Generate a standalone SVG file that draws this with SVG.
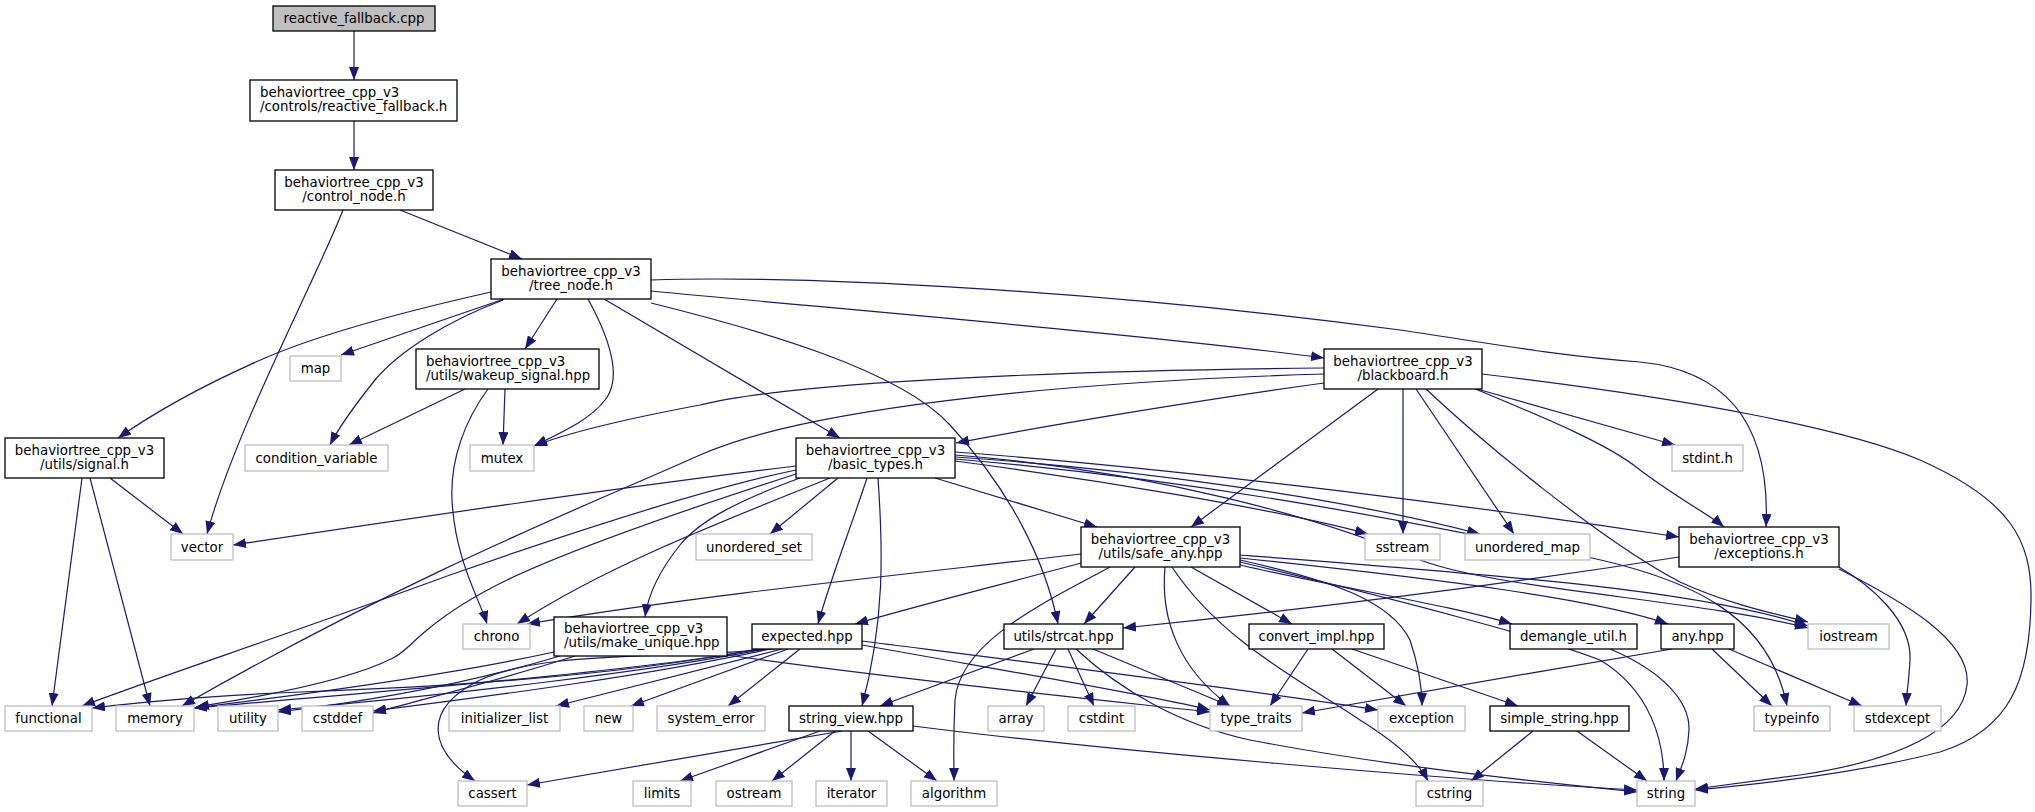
<svg xmlns="http://www.w3.org/2000/svg" width="2035" height="812" viewBox="0 0 2035 812">
<style>
.e{fill:none;stroke:#191970;stroke-width:1.2;marker-end:url(#a)}
.n rect{fill:#fff;stroke:#000;stroke-width:1.3}
.g rect{fill:#fff;stroke:#bfbfbf;stroke-width:1.3}
.r rect{fill:#bfbfbf;stroke:#000;stroke-width:1.3}
text{font-family:"DejaVu Sans",sans-serif;font-size:13.33px;fill:#000}
.c{text-anchor:middle}
</style>
<defs>
<marker id="a" markerUnits="userSpaceOnUse" markerWidth="14" markerHeight="10" refX="13" refY="5" orient="auto"><path d="M0,0 L13,5 L0,10 z" fill="#191970"/></marker>
</defs>
<rect width="2035" height="812" fill="#fff"/>
<g id="edges">
<path class="e" d="M354,31 V80"/>
<path class="e" d="M354,121 V170"/>
<path class="e" d="M400,210 L522,259"/>
<path class="e" d="M343,210 C318,275 235,430 207,534"/>
<path class="e" d="M491,292 C420,308 330,330 265,358 C210,382 158,410 118,438"/>
<path class="e" d="M504,299 L341,355"/>
<path class="e" d="M503,300 C450,320 400,350 375,380 C355,405 340,425 330,445"/>
<path class="e" d="M557,299 L525,349"/>
<path class="e" d="M588,299 C605,330 625,375 605,400 C590,420 560,433 534,446"/>
<path class="e" d="M604,299 L840,438"/>
<path class="e" d="M651,303 C760,330 900,370 950,425 C1010,490 1045,560 1058,624"/>
<path class="e" d="M651,291 C850,310 1150,335 1324,358"/>
<path class="e" d="M651,280 C800,275 1100,290 1400,330 C1500,345 1560,356 1640,362 C1740,372 1770,440 1766,527"/>
<path class="e" d="M1324,368 C1100,370 800,380 700,405 C620,420 570,432 534,446"/>
<path class="e" d="M1324,374 C1050,382 800,410 700,455 C600,500 420,570 182,706"/>
<path class="e" d="M1324,383 C1200,400 1050,425 956,443"/>
<path class="e" d="M1378,389 L1191,527"/>
<path class="e" d="M1403,389 V534"/>
<path class="e" d="M1416,389 L1514,534"/>
<path class="e" d="M1426,389 C1480,440 1600,540 1680,582 C1730,605 1780,615 1808,622"/>
<path class="e" d="M1473,388 C1550,420 1610,445 1640,470 C1680,500 1710,515 1724,527"/>
<path class="e" d="M1477,389 L1675,445"/>
<path class="e" d="M1482,374 C1700,400 1850,430 1920,460 C2010,500 2032,540 2031,600 C2030,680 2010,730 1940,752 C1850,775 1750,785 1695,790"/>
<path class="e" d="M1679,557 C1500,585 1300,610 1123,628"/>
<path class="e" d="M1839,567 C1870,585 1912,620 1910,660 C1909,680 1907,690 1906,706"/>
<path class="e" d="M1839,569 C1900,600 1972,640 1967,685 C1962,730 1900,760 1800,775 C1750,782 1720,786 1695,789"/>
<path class="e" d="M110,478 L183,534"/>
<path class="e" d="M82,478 L52,706"/>
<path class="e" d="M90,478 L150,706"/>
<path class="e" d="M488,389 C465,420 450,460 452,500 C455,560 480,600 487,624"/>
<path class="e" d="M505,389 L503,445"/>
<path class="e" d="M465,389 L349,445"/>
<path class="e" d="M796,466 C600,490 400,520 233,545"/>
<path class="e" d="M796,470 C700,490 550,540 450,575 C300,630 150,680 82,706"/>
<path class="e" d="M796,474 C700,505 580,545 507,580 C470,598 445,615 427,630 C412,642 405,652 393,658 C350,680 260,697 196,707"/>
<path class="e" d="M830,478 C700,530 600,570 517,624"/>
<path class="e" d="M838,478 L770,534"/>
<path class="e" d="M800,478 C740,500 700,520 680,545 C660,570 648,595 645,617"/>
<path class="e" d="M867,478 C850,530 830,580 818,624"/>
<path class="e" d="M878,478 C883,550 885,620 862,706"/>
<path class="e" d="M935,478 L1097,527"/>
<path class="e" d="M955,461 C1100,480 1280,510 1368,534"/>
<path class="e" d="M955,457 C1150,470 1350,500 1480,534"/>
<path class="e" d="M955,452 C1200,470 1500,510 1679,537"/>
<path class="e" d="M955,455 C1150,470 1330,520 1420,560 C1500,590 1700,600 1808,628"/>
<path class="e" d="M955,459 C1200,480 1400,520 1550,550 C1700,575 1770,620 1787,706"/>
<path class="e" d="M1081,554 C900,575 700,595 527,624"/>
<path class="e" d="M1081,563 C1000,585 920,605 855,624"/>
<path class="e" d="M1110,567 C1050,600 960,640 955,700 C953,740 954,760 954,781"/>
<path class="e" d="M1135,567 L1084,624"/>
<path class="e" d="M1165,567 C1160,620 1180,670 1230,706"/>
<path class="e" d="M1172,567 C1220,640 1300,680 1360,720 C1400,745 1420,765 1428,781"/>
<path class="e" d="M1191,567 L1292,624"/>
<path class="e" d="M1240,560 C1330,580 1390,600 1410,640 C1420,670 1422,690 1422,706"/>
<path class="e" d="M1240,562 C1400,600 1550,640 1600,660 C1650,690 1664,740 1664,781"/>
<path class="e" d="M1240,565 C1350,590 1450,605 1512,624"/>
<path class="e" d="M1240,558 C1450,580 1600,600 1668,624"/>
<path class="e" d="M1240,555 C1500,575 1700,590 1808,626"/>
<path class="e" d="M1672,649 C1550,670 1400,695 1302,713"/>
<path class="e" d="M1712,649 L1772,706"/>
<path class="e" d="M1729,649 L1862,706"/>
<path class="e" d="M1610,649 C1660,670 1690,700 1689,730 C1688,755 1680,770 1676,781"/>
<path class="e" d="M1308,649 L1270,706"/>
<path class="e" d="M1332,649 L1406,706"/>
<path class="e" d="M1352,649 L1518,706"/>
<path class="e" d="M1533,731 L1471,781"/>
<path class="e" d="M1577,731 L1647,781"/>
<path class="e" d="M1034,649 L880,706"/>
<path class="e" d="M1056,649 L1026,706"/>
<path class="e" d="M1068,649 L1094,706"/>
<path class="e" d="M1093,649 L1230,706"/>
<path class="e" d="M1076,649 C1120,690 1180,725 1250,740 C1380,765 1520,780 1637,792"/>
<path class="e" d="M842,731 L527,785"/>
<path class="e" d="M820,731 L680,781"/>
<path class="e" d="M835,731 L772,781"/>
<path class="e" d="M851,731 V781"/>
<path class="e" d="M868,731 L937,781"/>
<path class="e" d="M913,726 C1100,750 1450,780 1637,790"/>
<path class="e" d="M757,649 C650,670 500,685 300,692 C200,696 140,702 92,708"/>
<path class="e" d="M760,649 C650,670 400,690 194,708"/>
<path class="e" d="M765,649 C650,672 450,695 278,710"/>
<path class="e" d="M770,649 C650,675 500,695 373,711"/>
<path class="e" d="M775,649 C650,660 550,650 480,680 C420,710 430,750 475,781"/>
<path class="e" d="M782,649 L556,706"/>
<path class="e" d="M788,649 L631,706"/>
<path class="e" d="M800,649 L728,706"/>
<path class="e" d="M862,645 C1000,670 1150,695 1210,710"/>
<path class="e" d="M862,641 C1050,665 1250,690 1378,710"/>
<path class="e" d="M554,652 C450,675 300,695 194,708"/>
<path class="e" d="M560,656 C480,680 380,700 278,712"/>
<path class="e" d="M575,656 C500,680 420,700 373,713"/>
<path class="e" d="M727,655 C900,680 1100,700 1210,712"/>
</g>
<g id="n_cpp" class="r"><rect x="273" y="6" width="162" height="25"/><text class="c" x="354" y="23">reactive_fallback.cpp</text></g>
<g id="n_rfh" class="n"><rect x="250" y="80" width="207" height="41"/><text x="260" y="97">behaviortree_cpp_v3</text><text x="260" y="111">/controls/reactive_fallback.h</text></g>
<g id="n_control_node" class="n"><rect x="275" y="170" width="158" height="40"/><text class="c" x="354" y="186.5">behaviortree_cpp_v3</text><text class="c" x="354" y="200.5">/control_node.h</text></g>
<g id="n_tree_node" class="n"><rect x="491" y="259" width="160" height="40"/><text class="c" x="571" y="275.5">behaviortree_cpp_v3</text><text class="c" x="571" y="289.5">/tree_node.h</text></g>
<g id="n_map" class="g"><rect x="290" y="356" width="51" height="25"/><text class="c" x="315.5" y="373">map</text></g>
<g id="n_wakeup" class="n"><rect x="416" y="349" width="183" height="40"/><text x="426" y="365.5">behaviortree_cpp_v3</text><text x="426" y="379.5">/utils/wakeup_signal.hpp</text></g>
<g id="n_blackboard" class="n"><rect x="1324" y="349" width="158" height="40"/><text class="c" x="1403" y="365.5">behaviortree_cpp_v3</text><text class="c" x="1403" y="379.5">/blackboard.h</text></g>
<g id="n_signal" class="n"><rect x="5" y="438" width="159" height="40"/><text class="c" x="84.5" y="454.5">behaviortree_cpp_v3</text><text class="c" x="84.5" y="468.5">/utils/signal.h</text></g>
<g id="n_condvar" class="g"><rect x="245" y="445" width="143" height="26"/><text class="c" x="316.5" y="462.5">condition_variable</text></g>
<g id="n_mutex" class="g"><rect x="470" y="445" width="64" height="26"/><text class="c" x="502" y="462.5">mutex</text></g>
<g id="n_basic_types" class="n"><rect x="796" y="438" width="159" height="40"/><text class="c" x="875.5" y="454.5">behaviortree_cpp_v3</text><text class="c" x="875.5" y="468.5">/basic_types.h</text></g>
<g id="n_stdint" class="g"><rect x="1672" y="445" width="71" height="26"/><text class="c" x="1707.5" y="462.5">stdint.h</text></g>
<g id="n_vector" class="g"><rect x="171" y="534" width="62" height="26"/><text class="c" x="202" y="551.5">vector</text></g>
<g id="n_unordered_set" class="g"><rect x="696" y="534" width="116" height="26"/><text class="c" x="754" y="551.5">unordered_set</text></g>
<g id="n_safe_any" class="n"><rect x="1081" y="527" width="159" height="40"/><text class="c" x="1160.5" y="543.5">behaviortree_cpp_v3</text><text class="c" x="1160.5" y="557.5">/utils/safe_any.hpp</text></g>
<g id="n_sstream" class="g"><rect x="1365" y="534" width="75" height="26"/><text class="c" x="1402.5" y="551.5">sstream</text></g>
<g id="n_unordered_map" class="g"><rect x="1465" y="534" width="125" height="26"/><text class="c" x="1527.5" y="551.5">unordered_map</text></g>
<g id="n_exceptions" class="n"><rect x="1679" y="527" width="160" height="40"/><text class="c" x="1759" y="543.5">behaviortree_cpp_v3</text><text class="c" x="1759" y="557.5">/exceptions.h</text></g>
<g id="n_chrono" class="g"><rect x="463" y="624" width="67" height="25"/><text class="c" x="496.5" y="641">chrono</text></g>
<g id="n_make_unique" class="n"><rect x="554" y="617" width="173" height="39"/><text x="564" y="633">behaviortree_cpp_v3</text><text x="564" y="647">/utils/make_unique.hpp</text></g>
<g id="n_expected" class="n"><rect x="752" y="624" width="110" height="25"/><text class="c" x="807" y="641">expected.hpp</text></g>
<g id="n_strcat" class="n"><rect x="1004" y="624" width="119" height="25"/><text class="c" x="1063.5" y="641">utils/strcat.hpp</text></g>
<g id="n_convert_impl" class="n"><rect x="1249" y="624" width="135" height="25"/><text class="c" x="1316.5" y="641">convert_impl.hpp</text></g>
<g id="n_demangle" class="n"><rect x="1510" y="624" width="127" height="25"/><text class="c" x="1573.5" y="641">demangle_util.h</text></g>
<g id="n_any" class="n"><rect x="1661" y="624" width="73" height="25"/><text class="c" x="1697.5" y="641">any.hpp</text></g>
<g id="n_iostream" class="g"><rect x="1808" y="624" width="81" height="25"/><text class="c" x="1848.5" y="641">iostream</text></g>
<g id="n_functional" class="g"><rect x="5" y="706" width="87" height="25"/><text class="c" x="48.5" y="723">functional</text></g>
<g id="n_memory" class="g"><rect x="116" y="706" width="78" height="25"/><text class="c" x="155" y="723">memory</text></g>
<g id="n_utility" class="g"><rect x="218" y="706" width="60" height="25"/><text class="c" x="248" y="723">utility</text></g>
<g id="n_cstddef" class="g"><rect x="302" y="706" width="71" height="25"/><text class="c" x="337.5" y="723">cstddef</text></g>
<g id="n_initializer_list" class="g"><rect x="449" y="706" width="111" height="25"/><text class="c" x="504.5" y="723">initializer_list</text></g>
<g id="n_new" class="g"><rect x="584" y="706" width="49" height="25"/><text class="c" x="608.5" y="723">new</text></g>
<g id="n_system_error" class="g"><rect x="657" y="706" width="108" height="25"/><text class="c" x="711" y="723">system_error</text></g>
<g id="n_string_view" class="n"><rect x="789" y="706" width="124" height="25"/><text class="c" x="851" y="723">string_view.hpp</text></g>
<g id="n_array" class="g"><rect x="988" y="706" width="56" height="25"/><text class="c" x="1016" y="723">array</text></g>
<g id="n_cstdint" class="g"><rect x="1068" y="706" width="67" height="25"/><text class="c" x="1101.5" y="723">cstdint</text></g>
<g id="n_type_traits" class="g"><rect x="1210" y="706" width="92" height="25"/><text class="c" x="1256" y="723">type_traits</text></g>
<g id="n_exception" class="g"><rect x="1378" y="706" width="87" height="25"/><text class="c" x="1421.5" y="723">exception</text></g>
<g id="n_simple_string" class="n"><rect x="1490" y="706" width="139" height="25"/><text class="c" x="1559.5" y="723">simple_string.hpp</text></g>
<g id="n_typeinfo" class="g"><rect x="1754" y="706" width="76" height="25"/><text class="c" x="1792" y="723">typeinfo</text></g>
<g id="n_stdexcept" class="g"><rect x="1854" y="706" width="87" height="25"/><text class="c" x="1897.5" y="723">stdexcept</text></g>
<g id="n_cassert" class="g"><rect x="458" y="781" width="69" height="25"/><text class="c" x="492.5" y="798">cassert</text></g>
<g id="n_limits" class="g"><rect x="633" y="781" width="58" height="25"/><text class="c" x="662" y="798">limits</text></g>
<g id="n_ostream" class="g"><rect x="716" y="781" width="76" height="25"/><text class="c" x="754" y="798">ostream</text></g>
<g id="n_iterator" class="g"><rect x="816" y="781" width="71" height="25"/><text class="c" x="851.5" y="798">iterator</text></g>
<g id="n_algorithm" class="g"><rect x="911" y="781" width="86" height="25"/><text class="c" x="954" y="798">algorithm</text></g>
<g id="n_cstring" class="g"><rect x="1416" y="781" width="67" height="25"/><text class="c" x="1449.5" y="798">cstring</text></g>
<g id="n_string" class="g"><rect x="1637" y="781" width="58" height="25"/><text class="c" x="1666" y="798">string</text></g>
</svg>
